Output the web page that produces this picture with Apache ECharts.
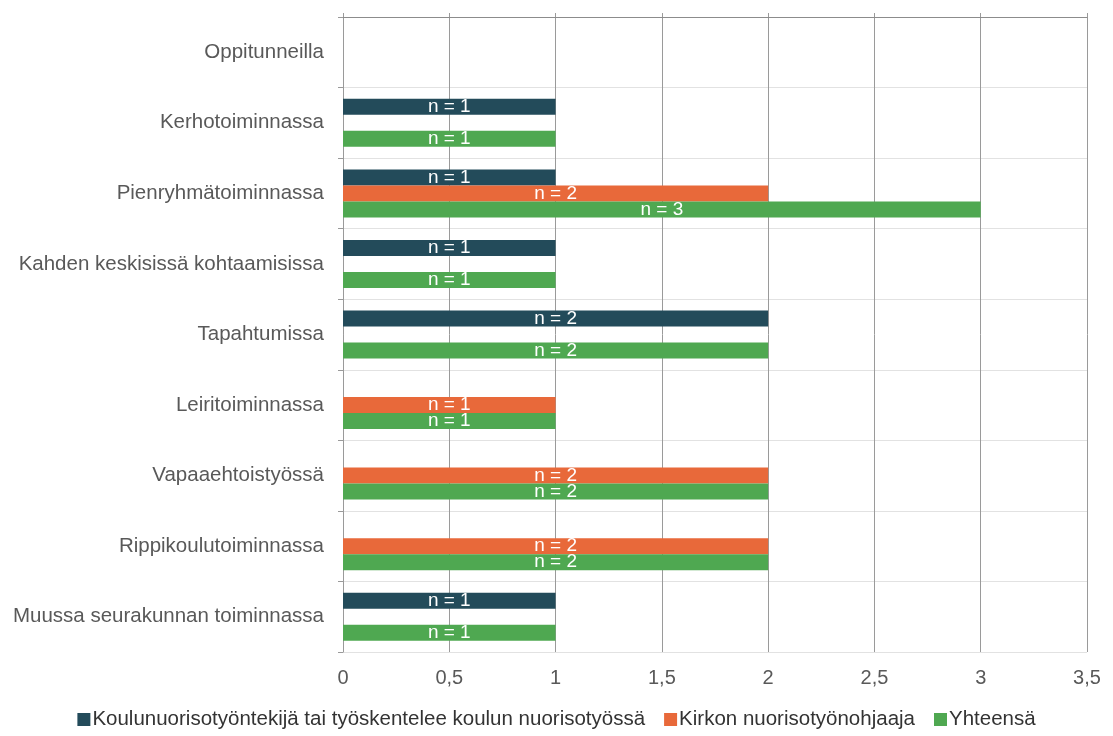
<!DOCTYPE html>
<html>
<head>
<meta charset="utf-8">
<script src="https://cdn.jsdelivr.net/npm/echarts@6/dist/echarts.min.js"></script>
<style>
  html, body { margin: 0; padding: 0; background: #fff; }
  #chart { width: 1113px; height: 736px; }
</style>
</head>
<body>
<div id="chart"></div>
<script>
// Toiminnot (listed top to bottom)
const categories = [
  'Oppitunneilla',
  'Kerhotoiminnassa',
  'Pienryhmätoiminnassa',
  'Kahden keskisissä kohtaamisissa',
  'Tapahtumissa',
  'Leiritoiminnassa',
  'Vapaaehtoistyössä',
  'Rippikoulutoiminnassa',
  'Muussa seurakunnan toiminnassa'
];

const seriesNames = [
  'Koulunuorisotyöntekijä tai työskentelee koulun nuorisotyössä',
  'Kirkon nuorisotyönohjaaja',
  'Yhteensä'
];

// '-' = no answers in this group
const kouluValues  = ['-', 1, 1, 1, 2, '-', '-', '-', 1];
const kirkkoValues = ['-', '-', 2, '-', '-', 1, 2, 2, '-'];
const yhteensaValues = ['-', 1, 3, 1, 2, 1, 2, 2, 1];

const xTicks = { min: 0, max: 3.5, interval: 0.5 };

const colors = ['#234b5a', '#e8693a', '#4fa851'];
const fontFamily = '"Liberation Sans", Arial, Helvetica, sans-serif';

function barSeries(name, data, color) {
  return {
    name: name,
    type: 'bar',
    data: data,
    barWidth: 16,
    barGap: '0%',
    itemStyle: { color: color },
    label: {
      show: true,
      position: 'inside',
      color: '#fff',
      fontFamily: fontFamily,
      fontSize: 19,
      formatter: p => 'n = ' + p.value
    }
  };
}

const chart = echarts.init(document.getElementById('chart'));
chart.setOption({
  animation: false,
  textStyle: { fontFamily: fontFamily },
  grid: { left: 343, right: 26, top: 17, bottom: 84, containLabel: false },
  legend: {
    bottom: 1,
    left: 'center',
    itemWidth: 13,
    itemHeight: 13,
    itemGap: 19,
    icon: 'rect',
    textStyle: { fontSize: 20.5, color: '#333', fontFamily: fontFamily, padding: [0, 0, 0, -3] },
    data: seriesNames
  },
  xAxis: [
    {
      type: 'value',
      position: 'bottom',
      min: xTicks.min,
      max: xTicks.max,
      interval: xTicks.interval,
      axisLine: { show: false },
      axisTick: { show: false },
      axisLabel: {
        color: '#595959',
        fontSize: 20,
        margin: 16,
        formatter: v => String(v).replace('.', ',')
      },
      splitLine: { show: true, lineStyle: { color: '#9a9a9a', width: 1 } }
    },
    {
      type: 'value',
      position: 'top',
      min: xTicks.min,
      max: xTicks.max,
      interval: xTicks.interval,
      axisLine: { show: true, lineStyle: { color: '#8c8c8c', width: 1 } },
      axisTick: { show: true, length: 4, lineStyle: { color: '#9a9a9a' } },
      axisLabel: { show: false },
      splitLine: { show: false }
    }
  ],
  yAxis: {
    type: 'category',
    inverse: true,
    data: categories,
    axisLine: { show: true, lineStyle: { color: '#9a9a9a' } },
    axisTick: { show: true, length: 5, lineStyle: { color: '#9a9a9a' } },
    axisLabel: { color: '#595959', fontSize: 20.5, margin: 19 },
    splitLine: { show: true, lineStyle: { color: '#e2e2e2', width: 1 } }
  },
  series: [
    barSeries(seriesNames[0], kouluValues, colors[0]),
    barSeries(seriesNames[1], kirkkoValues, colors[1]),
    barSeries(seriesNames[2], yhteensaValues, colors[2])
  ]
});
</script>
</body>
</html>
